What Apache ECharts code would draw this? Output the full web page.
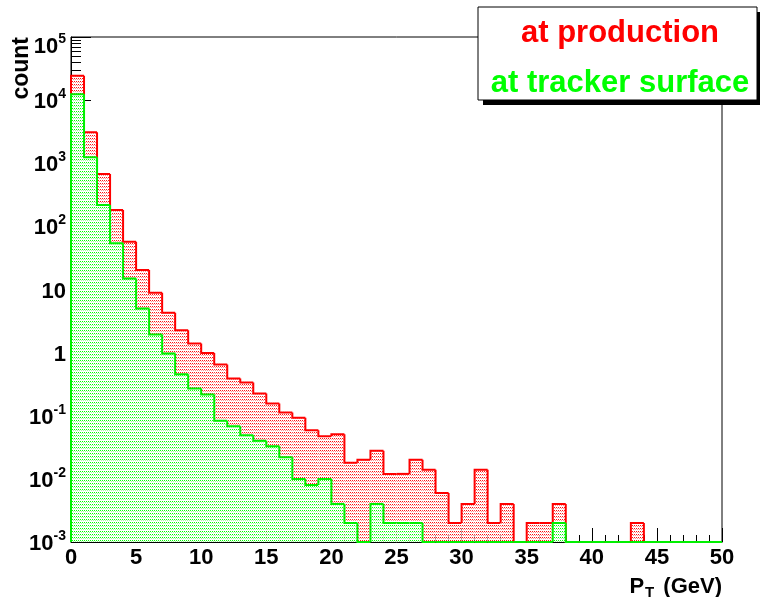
<!DOCTYPE html>
<html>
<head>
<meta charset="utf-8">
<script src="https://cdn.jsdelivr.net/npm/echarts@6/dist/echarts.min.js"></script>
<style>
  html, body { margin: 0; padding: 0; background: #fff; }
  #chart { width: 760px; height: 597px; }
</style>
</head>
<body>
<div id="chart"></div>
<script>
// histogram bins: width 1 GeV, from 0 to 50
var BIN_WIDTH = 1;
var Y_MIN = 1e-3, Y_MAX = 1e5;

// counts per bin (0 = empty bin)
var atProduction = [
  24400, 3090, 675, 181, 57, 20.3, 8.9, 4.3, 2.27, 1.40,
  0.99, 0.65, 0.39, 0.337, 0.225, 0.157, 0.113, 0.093, 0.059, 0.0475,
  0.051, 0.018, 0.020, 0.028, 0.012, 0.012, 0.020, 0.014, 0.006, 0.002,
  0.004, 0.014, 0.002, 0.004, 0, 0.002, 0.002, 0.004, 0, 0,
  0, 0, 0, 0.002, 0, 0, 0, 0, 0, 0
];
var atTrackerSurface = [
  12400, 1240, 218, 54, 15, 5.0, 1.94, 0.97, 0.456, 0.27,
  0.217, 0.083, 0.068, 0.049, 0.040, 0.033, 0.022, 0.010, 0.008, 0.010,
  0.004, 0.002, 0, 0.004, 0.002, 0.002, 0.002, 0, 0, 0,
  0, 0, 0, 0, 0, 0, 0, 0.002, 0, 0,
  0, 0, 0, 0, 0, 0, 0, 0, 0, 0
];

var xTicks = [0, 5, 10, 15, 20, 25, 30, 35, 40, 45, 50];
var yDecades = [1e-3, 1e-2, 1e-1, 1, 10, 1e2, 1e3, 1e4, 1e5];

var FONT = '"Liberation Sans", Arial, Helvetica, sans-serif';

// ROOT style dotted fill: rows of dots on white
function makePattern(full, light) {
  var c = document.createElement('canvas');
  c.width = 4; c.height = 3;
  var ctx = c.getContext('2d');
  ctx.fillStyle = '#ffffff';
  ctx.fillRect(0, 0, 4, 3);
  ctx.fillStyle = full;
  ctx.fillRect(0, 0, 1, 1);
  ctx.fillRect(2, 0, 1, 1);
  ctx.fillStyle = light;
  ctx.fillRect(1, 1, 1, 1);
  ctx.fillRect(3, 1, 1, 1);
  return { image: c, repeat: 'repeat' };
}
var redFill = makePattern('#ff1010', '#ff9090');
var greenFill = makePattern('#00ff00', '#a0ffa0');

function clampLow(v) { return v > 0 ? v : Y_MIN; }

function toBins(values) {
  return values.map(function (v, i) {
    var prev = i > 0 ? values[i - 1] : 0;
    return [i * BIN_WIDTH, (i + 1) * BIN_WIDTH, clampLow(v), clampLow(prev)];
  });
}

function histRenderer(lineColor, fill) {
  return function (params, api) {
    var x0 = api.value(0), x1 = api.value(1);
    var v = api.value(2), vPrev = api.value(3);
    var topL = api.coord([x0, v]);
    var topR = api.coord([x1, v]);
    var base = api.coord([x0, Y_MIN]);
    var prev = api.coord([x0, vPrev]);
    var kids = [];
    if (base[1] - topL[1] > 0.5) {
      kids.push({
        type: 'rect',
        shape: { x: topL[0], y: topL[1], width: topR[0] - topL[0], height: base[1] - topL[1] },
        style: { fill: fill }
      });
    }
    kids.push({
      type: 'polyline',
      shape: { points: [prev, topL, topR] },
      style: { stroke: lineColor, lineWidth: 2, fill: null }
    });
    return { type: 'group', children: kids };
  };
}

function decadeLabel(v) {
  var e = Math.round(Math.log10(v));
  if (e === 0) return '{b|1}';
  if (e === 1) return '{b|10}';
  if (e === 5) return '{gap| }\n{b|10}{s|' + e + '}'; // top label sits a bit lower, as in ROOT
  return '{b|10}{s|' + e + '}';
}

var minorY = [];
for (var d = -3; d < 5; d++) {
  for (var m = 2; m <= 9; m++) minorY.push(m * Math.pow(10, d));
}

var myChart = echarts.init(document.getElementById('chart'), null, { renderer: 'canvas' });

var option = {
  animation: false,
  backgroundColor: '#ffffff',
  grid: {
    left: 71, right: 38, top: 37, bottom: 55,
    show: true, borderColor: '#000', borderWidth: 1
  },
  xAxis: {
    type: 'value',
    min: 0, max: 50, interval: 5,
    axisLine: { show: true, onZero: false, lineStyle: { color: '#000', width: 1 } },
    axisTick: { show: true, inside: true, length: 14, lineStyle: { color: '#000', width: 1 } },
    minorTick: { show: true, splitNumber: 5, length: 7, lineStyle: { color: '#000', width: 1 } },
    splitLine: { show: false },
    axisLabel: {
      color: '#000', fontSize: 22, fontWeight: 'bold', fontFamily: FONT, margin: 5,
      showMinLabel: true, showMaxLabel: true,
      customValues: xTicks
    }
  },
  yAxis: [{
    type: 'log', logBase: 10,
    min: Y_MIN, max: Y_MAX,
    axisLine: { show: true, lineStyle: { color: '#000', width: 1 } },
    axisTick: { show: true, inside: true, length: 20, customValues: yDecades, lineStyle: { color: '#000', width: 1 } },
    splitLine: { show: false },
    axisLabel: {
      customValues: yDecades,
      margin: 5,
      formatter: decadeLabel,
      rich: {
        gap: { fontSize: 10, lineHeight: 16 },
        b: { fontSize: 22, fontWeight: 'bold', fontFamily: FONT, color: '#000', lineHeight: 26, verticalAlign: 'bottom' },
        s: { fontSize: 14, fontWeight: 'bold', fontFamily: FONT, color: '#000', lineHeight: 14, verticalAlign: 'top' }
      }
    }
  }, {
    // minor log ticks 2..9 per decade
    type: 'log', logBase: 10,
    min: Y_MIN, max: Y_MAX,
    position: 'left',
    axisLine: { show: false },
    axisLabel: { show: false },
    splitLine: { show: false },
    axisTick: { show: true, inside: true, length: 10, customValues: minorY, lineStyle: { color: '#000', width: 1 } }
  }],
  series: [{
    name: 'at production',
    type: 'custom',
    renderItem: histRenderer('#ff0000', redFill),
    encode: { x: [0, 1], y: [2] },
    data: toBins(atProduction),
    z: 2
  }, {
    name: 'at tracker surface',
    type: 'custom',
    renderItem: histRenderer('#00f000', greenFill),
    encode: { x: [0, 1], y: [2] },
    data: toBins(atTrackerSurface),
    z: 3
  }],
  graphic: [{
    type: 'text',
    x: 22, y: 37,
    rotation: Math.PI / 2,
    style: {
      text: 'count', fill: '#000',
      font: 'bold 23px ' + FONT,
      align: 'right', verticalAlign: 'middle'
    },
    z: 10
  }, {
    type: 'text',
    x: 722, y: 576,
    style: {
      text: '{p|P}{t|T}{p| (GeV)}',
      align: 'right', verticalAlign: 'top',
      rich: {
        p: { fontSize: 22, fontWeight: 'bold', fontFamily: FONT, fill: '#000', lineHeight: 24, verticalAlign: 'top' },
        t: { fontSize: 15, fontWeight: 'bold', fontFamily: FONT, fill: '#000', lineHeight: 24, verticalAlign: 'bottom', padding: [0, 3, 0, 1] }
      }
    },
    z: 10
  }, {
    // legend box with ROOT-like shadow
    type: 'rect',
    shape: { x: 483, y: 12, width: 279, height: 93 },
    style: { fill: '#000' },
    z: 20
  }, {
    type: 'rect',
    shape: { x: 478, y: 7, width: 279, height: 93 },
    style: { fill: '#fff', stroke: '#000', lineWidth: 1 },
    z: 21
  }, {
    type: 'text',
    x: 620, y: 33,
    style: {
      text: 'at production', fill: '#ff0000',
      font: 'bold 31px ' + FONT,
      align: 'center', verticalAlign: 'middle'
    },
    z: 22
  }, {
    type: 'text',
    x: 620, y: 83,
    style: {
      text: 'at tracker surface', fill: '#00ff00',
      font: 'bold 31px ' + FONT,
      align: 'center', verticalAlign: 'middle'
    },
    z: 22
  }]
};

myChart.setOption(option);
</script>
</body>
</html>
